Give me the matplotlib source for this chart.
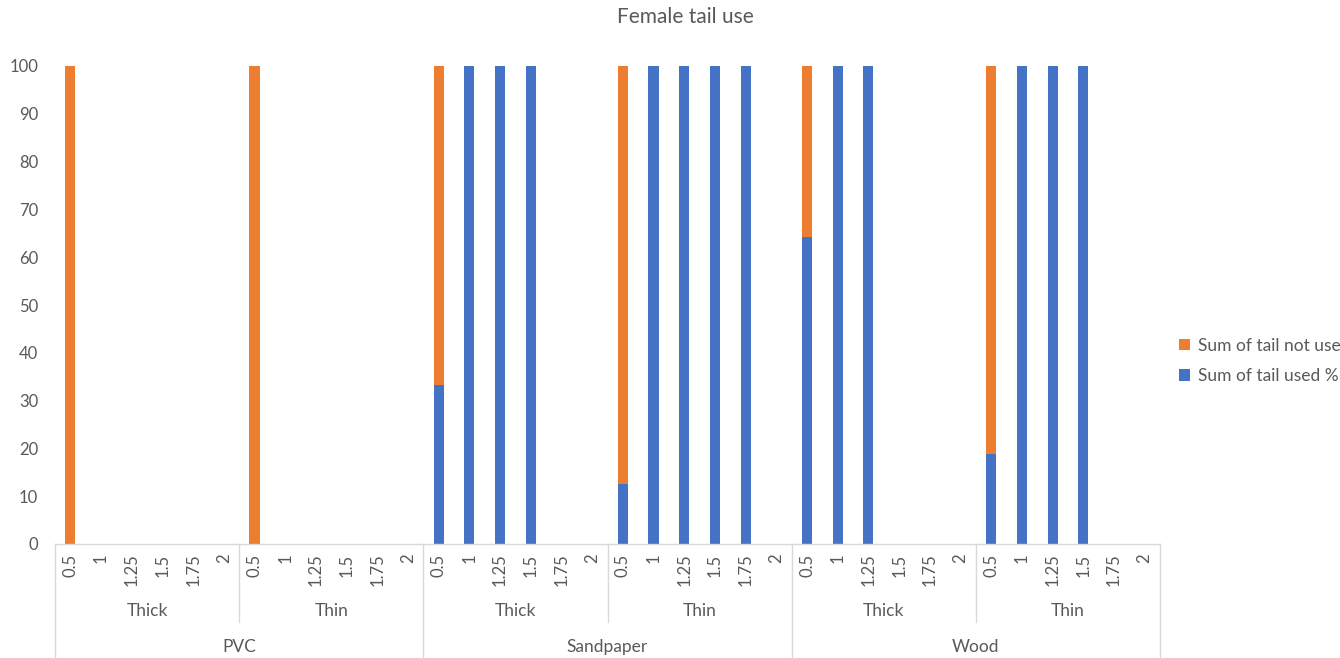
import matplotlib
matplotlib.use("Agg")
import matplotlib.pyplot as plt
import matplotlib.transforms as mtransforms
import numpy as np

plt.rcParams['font.family'] = ['Lato', 'DejaVu Sans']

materials = ["PVC", "Sandpaper", "Wood"]
thicknesses = ["Thick", "Thin"]
sizes = ["0.5", "1", "1.25", "1.5", "1.75", "2"]

# order: PVC Thick, PVC Thin, Sandpaper Thick, Sandpaper Thin, Wood Thick, Wood Thin
tail_used = [0, 0, 0, 0, 0, 0,
             0, 0, 0, 0, 0, 0,
             33.3, 100, 100, 100, 0, 0,
             12.5, 100, 100, 100, 100, 0,
             64.3, 100, 100, 0, 0, 0,
             18.75, 100, 100, 100, 0, 0]
tail_not_used = [100, 0, 0, 0, 0, 0,
                 100, 0, 0, 0, 0, 0,
                 66.7, 0, 0, 0, 0, 0,
                 87.5, 0, 0, 0, 0, 0,
                 35.7, 0, 0, 0, 0, 0,
                 81.25, 0, 0, 0, 0, 0]

BLUE = "#4472C4"
ORANGE = "#ED7D31"
TXT = "#595959"
LINE = "#D9D9D9"

fig = plt.figure(figsize=(13.4, 6.58), dpi=100)
ax = fig.add_axes([55/1340, 1-544/658, (1160-55)/1340, (544-66)/658])

n = len(tail_used)
x = np.arange(n)
used = np.array(tail_used)
notused = np.array(tail_not_used)
w = 0.33
ax.bar(x, used, w, color=BLUE, label="Sum of tail used %", zorder=2)
ax.bar(x, notused, w, bottom=used, color=ORANGE, label="Sum of tail not used %", zorder=2)

ax.set_xlim(-0.5, n - 0.5)
ax.set_ylim(0, 100)
ax.set_yticks(np.arange(0, 101, 10))
ax.tick_params(axis='y', length=0, pad=12, labelsize=12, labelcolor=TXT)
for s in ["left", "right", "top"]:
    ax.spines[s].set_visible(False)
ax.spines["bottom"].set_color(LINE)
ax.spines["bottom"].set_linewidth(1)

ax.set_xticks(x)
ax.set_xticklabels(sizes * (len(materials) * len(thicknesses)), rotation=90,
                   fontsize=12, color=TXT)
ax.tick_params(axis='x', length=0, pad=7)

trans = mtransforms.blended_transform_factory(ax.transData, ax.transAxes)
ngroup = len(sizes)
# separators
for k in range(len(materials) * len(thicknesses) + 1):
    xb = k * ngroup - 0.5
    bottom = -0.2385 if k % 2 == 0 else -0.163
    ax.plot([xb, xb], [0, bottom], color=LINE, lw=1, transform=trans, clip_on=False)

# level-2 labels
for mi, m in enumerate(materials):
    for ti, t in enumerate(thicknesses):
        g = mi * 2 + ti
        xc = g * ngroup + (ngroup - 1) / 2
        ax.text(xc, -0.1405, t, transform=trans, ha='center', va='center',
                fontsize=12.5, color=TXT)
    xm = mi * 2 * ngroup + (2 * ngroup - 1) / 2
    ax.text(xm, -0.2145, m, transform=trans, ha='center', va='center',
            fontsize=12.5, color=TXT)

fig.text(685/1340, 1-17/658, "Female tail use", ha='center', va='center',
         fontsize=15, color=TXT)

handles, labels = ax.get_legend_handles_labels()
leg = fig.legend(handles[::-1], labels[::-1], loc='center left',
                 bbox_to_anchor=(1163/1340, 1-361/658), frameon=False,
                 fontsize=12.5, handlelength=0.65, handleheight=0.65,
                 handletextpad=0.45, labelspacing=0.85, labelcolor=TXT)

fig.savefig("out.png", dpi=100)
